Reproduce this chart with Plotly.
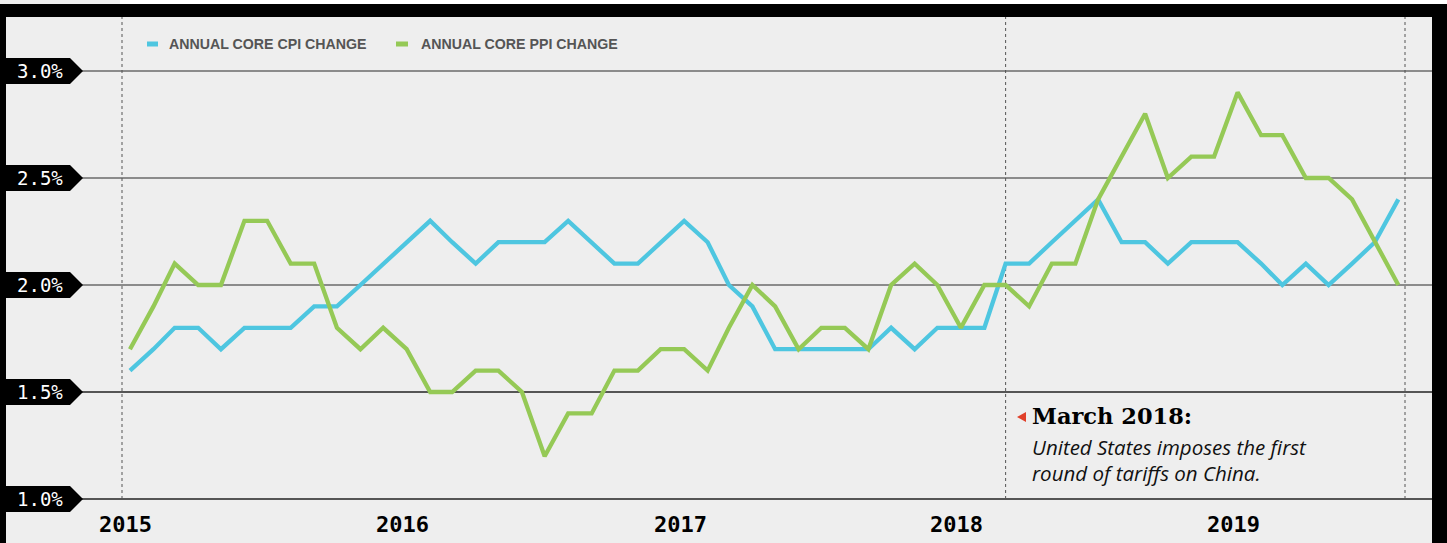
import pandas as pd
import plotly.graph_objects as go

# ---------------- data ----------------
months = pd.date_range("2015-01-01", "2019-08-01", freq="MS")
cpi = [1.6, 1.7, 1.8, 1.8, 1.7, 1.8, 1.8, 1.8, 1.9, 1.9, 2.0, 2.1,
       2.2, 2.3, 2.2, 2.1, 2.2, 2.2, 2.2, 2.3, 2.2, 2.1, 2.1, 2.2,
       2.3, 2.2, 2.0, 1.9, 1.7, 1.7, 1.7, 1.7, 1.7, 1.8, 1.7, 1.8,
       1.8, 1.8, 2.1, 2.1, 2.2, 2.3, 2.4, 2.2, 2.2, 2.1, 2.2, 2.2,
       2.2, 2.1, 2.0, 2.1, 2.0, 2.1, 2.2, 2.4]
ppi = [1.7, 1.9, 2.1, 2.0, 2.0, 2.3, 2.3, 2.1, 2.1, 1.8, 1.7, 1.8,
       1.7, 1.5, 1.5, 1.6, 1.6, 1.5, 1.2, 1.4, 1.4, 1.6, 1.6, 1.7,
       1.7, 1.6, 1.8, 2.0, 1.9, 1.7, 1.8, 1.8, 1.7, 2.0, 2.1, 2.0,
       1.8, 2.0, 2.0, 1.9, 2.1, 2.1, 2.4, 2.6, 2.8, 2.5, 2.6, 2.6,
       2.9, 2.7, 2.7, 2.5, 2.5, 2.4, 2.2, 2.0]
y_ticks = [1.0, 1.5, 2.0, 2.5, 3.0]
y_labels = ["1.0%", "1.5%", "2.0%", "2.5%", "3.0%"]
year_ticks = ["2015", "2016", "2017", "2018", "2019"]
series_names = ["ANNUAL CORE CPI CHANGE", "ANNUAL CORE PPI CHANGE"]
event_date = "2018-03-01"
event_title = "March 2018:"
event_lines = ["United States imposes the first", "round of tariffs on China."]

# ---------------- style ----------------
W, H = 1447, 543
BLUE = "#4ec6e0"
GREEN = "#95c956"
BG = "#eeeeee"
PLOT_TOP, PLOT_BOTTOM = 17, 499
Y_MIN, Y_MAX = 1.0, 3.0 + 54 / 214.0


def px(x):
    return x / W


def py(y):
    return 1 - y / H


def vy(v):
    """paper y for a data value v (so tags are not clipped by the plot area)"""
    pix = PLOT_BOTTOM - (v - Y_MIN) / (Y_MAX - Y_MIN) * (PLOT_BOTTOM - PLOT_TOP)
    return py(pix), pix


fig = go.Figure()
fig.add_trace(go.Scatter(x=months, y=cpi, mode="lines", name=series_names[0],
                         line=dict(color=BLUE, width=4.3), showlegend=False))
fig.add_trace(go.Scatter(x=months, y=ppi, mode="lines", name=series_names[1],
                         line=dict(color=GREEN, width=4.3), showlegend=False))

shapes = []
annotations = []

# frame
shapes.append(dict(type="rect", xref="paper", yref="paper", x0=px(120), x1=1, y0=py(4), y1=1,
                   fillcolor="white", line=dict(width=0), layer="above"))
shapes.append(dict(type="rect", xref="paper", yref="paper", x0=0, x1=1, y0=py(17), y1=py(4),
                   fillcolor="black", line=dict(width=0), layer="above"))
shapes.append(dict(type="rect", xref="paper", yref="paper", x0=0, x1=px(6), y0=0, y1=py(4),
                   fillcolor="black", line=dict(width=0), layer="above"))
shapes.append(dict(type="rect", xref="paper", yref="paper", x0=px(1432), x1=1, y0=0, y1=py(4),
                   fillcolor="black", line=dict(width=0), layer="above"))

# horizontal gridlines + y tags
for v, lab in zip(y_ticks, y_labels):
    col = "#6a6a6a" if v >= 2.0 else "#222222"
    yp, pix = vy(v)
    shapes.append(dict(type="line", xref="paper", yref="paper", x0=px(82), x1=px(1432), y0=yp, y1=yp,
                       line=dict(color=col, width=1.6), layer="below"))
    path = (f"M {px(6)},{py(pix - 13)} L {px(70)},{py(pix - 13)} L {px(83)},{yp} "
            f"L {px(70)},{py(pix + 13)} L {px(6)},{py(pix + 13)} Z")
    shapes.append(dict(type="path", xref="paper", yref="paper", path=path,
                       fillcolor="black", line=dict(width=0), layer="above"))
    annotations.append(dict(xref="paper", yref="paper", x=px(40), y=yp, text=lab, showarrow=False,
                            xanchor="center", yanchor="middle",
                            font=dict(family="DejaVu Sans Mono", size=19, color="white")))

# vertical dotted lines
for xr, xv in [("x domain", 0), ("x", event_date), ("x domain", 1)]:
    shapes.append(dict(type="line", xref=xr, yref="paper", x0=xv, x1=xv, y0=py(PLOT_BOTTOM), y1=py(PLOT_TOP),
                       line=dict(color="#555555", width=1, dash="dot"), layer="below"))

# year labels
for yr in year_ticks:
    annotations.append(dict(xref="x", yref="paper", x=f"{yr}-01-01", y=py(524), text=f"<b>{yr}</b>",
                            showarrow=False, xanchor="center", yanchor="middle", xshift=-4,
                            font=dict(family="DejaVu Sans Mono", size=22, color="black")))

# legend
for (x0, x1, tx), col, name in zip([(147, 158, 167), (396, 408, 419)], [BLUE, GREEN], series_names):
    shapes.append(dict(type="line", xref="paper", yref="paper", x0=px(x0), x1=px(x1), y0=py(44), y1=py(44),
                       line=dict(color=col, width=5), layer="above"))
    annotations.append(dict(xref="paper", yref="paper", x=px(tx), y=py(44), text=f"<b>{name}</b>",
                            showarrow=False, xanchor="left", yanchor="middle",
                            font=dict(family="Liberation Sans", size=14.2, color="#555555")))

# event annotation
shapes.append(dict(type="path", xref="paper", yref="paper",
                   path=f"M {px(1017)},{py(417)} L {px(1026)},{py(412)} L {px(1026)},{py(422)} Z",
                   fillcolor="#e0402a", line=dict(width=0), layer="above"))
annotations.append(dict(xref="paper", yref="paper", x=px(1030), y=py(416), text=f"<b>{event_title}</b>",
                        showarrow=False, xanchor="left", yanchor="middle",
                        font=dict(family="DejaVu Serif", size=22.5, color="black")))
for i, line in enumerate(event_lines):
    annotations.append(dict(xref="paper", yref="paper", x=px(1030), y=py(447 + 26 * i),
                            text=f"<i>{line}</i>", showarrow=False, xanchor="left", yanchor="middle",
                            font=dict(family="Open Sans", size=20.5, color="#111111")))

x_start = months[0] - pd.Timedelta(days=10.5)
x_end = months[-1] + pd.Timedelta(days=8.8)

fig.update_layout(
    width=W, height=H, autosize=False,
    margin=dict(l=0, r=0, t=0, b=0, pad=0),
    paper_bgcolor=BG, plot_bgcolor="rgba(0,0,0,0)",
    xaxis=dict(type="date", range=[x_start, x_end], domain=[px(122), px(1405)],
               showgrid=False, zeroline=False, showticklabels=False, showline=False, ticks=""),
    yaxis=dict(range=[Y_MIN, Y_MAX], domain=[py(PLOT_BOTTOM), py(PLOT_TOP)],
               showgrid=False, zeroline=False, showticklabels=False, showline=False, ticks=""),
    shapes=shapes, annotations=annotations, showlegend=False,
)

fig.write_html("out.html", config={"displayModeBar": False},
               post_script="document.body.style.margin='0';document.body.style.padding='0';"
                           "document.documentElement.style.overflow='hidden';")
